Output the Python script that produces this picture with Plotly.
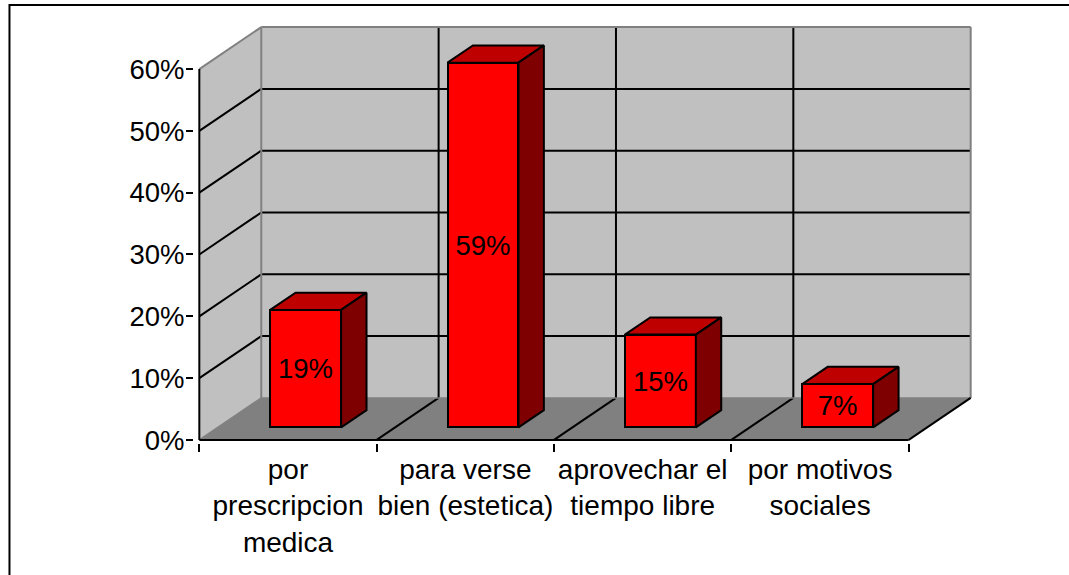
import plotly.graph_objects as go

categories = ["por<br>prescripcion<br>medica", "para verse<br>bien (estetica)",
              "aprovechar el<br>tiempo libre", "por motivos<br>sociales"]
values = [19, 59, 15, 7]
y_ticks = [0, 10, 20, 30, 40, 50, 60]

W, H = 1069, 575
FONT = dict(family="Liberation Sans, Arial, sans-serif", size=27.5, color="black")

# oblique "3D" depth, in axis units
DX = 62 / 177.5
DY = 42 / 6.183
YMAX = 60
NCAT = len(categories)
BAR_W = 0.4
D_FRONT_X, D_FRONT_Y, D_DEPTH = 0.285, 0.3, 0.41

# pixel placement of the front plane
px_x, px_y = 177.5, 6.183
x0_px, y0_px = 199, 440
pad_x, pad_y = 0.03, 0.5
xr = [-pad_x, NCAT + DX + pad_x]
yr = [-pad_y, YMAX + DY + pad_y]
m_l = x0_px + xr[0] * px_x
m_b = H - (y0_px - yr[0] * px_y)
m_r = W - (x0_px + xr[1] * px_x)
m_t = y0_px - yr[1] * px_y
plot_w = W - m_l - m_r
plot_h = H - m_t - m_b


def poly(xs, ys, fill=None, line=None, lw=1.5):
    path = "M" + "L".join(f"{a},{b}" for a, b in zip(xs, ys)) + "Z"
    return dict(type="path", path=path, xref="x", yref="y", layer="below",
                fillcolor=fill if fill else "rgba(0,0,0,0)",
                line=dict(color=line if line else "rgba(0,0,0,0)", width=lw))


def seg(x1, y1, x2, y2, color="black", lw=2, layer="below"):
    return dict(type="line", x0=x1, y0=y1, x1=x2, y1=y2, xref="x", yref="y", layer=layer,
                line=dict(color=color, width=lw))


shapes = []
# walls and floor
shapes.append(poly([0, DX, DX, 0], [0, DY, YMAX + DY, YMAX], fill="#C0C0C0"))
shapes.append(poly([DX, NCAT + DX, NCAT + DX, DX], [DY, DY, YMAX + DY, YMAX + DY], fill="#C0C0C0"))
shapes.append(poly([0, NCAT, NCAT + DX, DX], [0, 0, DY, DY], fill="#808080"))

# gridlines on the side wall and the back wall
for t in y_ticks[1:-1]:
    shapes.append(seg(0, t, DX, t + DY))
    shapes.append(seg(DX, t + DY, NCAT + DX, t + DY))
for i in range(1, NCAT):
    shapes.append(seg(i + DX, DY, i + DX, YMAX + DY))
    shapes.append(seg(i, 0, i + DX, DY))

# grey wall edges
gray = "#808080"
shapes.append(seg(0, YMAX, DX, YMAX + DY, gray, 2))
shapes.append(seg(DX, YMAX + DY, NCAT + DX, YMAX + DY, gray, 2))
shapes.append(seg(DX, DY, DX, YMAX + DY, gray, 2))
shapes.append(seg(NCAT + DX, DY, NCAT + DX, YMAX + DY, gray, 2))
shapes.append(seg(0, 0, DX, DY, gray, 1.5))
shapes.append(seg(DX, DY, NCAT + DX, DY, gray, 1.5))

# axis lines
shapes.append(seg(0, 0, 0, YMAX, "black", 2))
shapes.append(seg(0, 0, NCAT, 0, "black", 2))
shapes.append(seg(NCAT, 0, NCAT + DX, DY, "black", 2))

# chart frame, only the left and top sides show in the picture
frame_l = (9 - m_l) / plot_w
frame_t = (H - m_b - 5) / plot_h
frame_b = (H - m_b - H - 5) / plot_h
shapes.append(dict(type="path", xref="paper", yref="paper",
                   path=f"M{frame_l},{frame_b}L{frame_l},{frame_t}L{(W + 5 - m_l) / plot_w},{frame_t}",
                   line=dict(color="black", width=2), layer="above"))

centers = [i + 0.5 + D_FRONT_X * DX for i in range(NCAT)]
base = D_FRONT_Y * DY
depth_x = D_DEPTH * DX
depth_y = D_DEPTH * DY

fig = go.Figure()
fig.add_trace(go.Bar(
    x=centers, y=values, base=base, width=BAR_W,
    marker=dict(color="#FF0000", line=dict(color="black", width=2)),
    text=[f"{v}%" for v in values], textposition="inside", insidetextanchor="middle",
    textangle=0, constraintext="none", textfont=FONT, hoverinfo="skip",
))

top_x, top_y, side_x, side_y = [], [], [], []
for c, v in zip(centers, values):
    l, r = c - BAR_W / 2, c + BAR_W / 2
    t = base + v
    top_x += [l, r, r + depth_x, l + depth_x, l, None]
    top_y += [t, t, t + depth_y, t + depth_y, t, None]
    side_x += [r, r + depth_x, r + depth_x, r, r, None]
    side_y += [t, t + depth_y, base + depth_y, base, t, None]
for fx, fy, col in [(top_x, top_y, "#BF0000"), (side_x, side_y, "#7F0000")]:
    fig.add_trace(go.Scatter(x=fx, y=fy, mode="lines", fill="toself", fillcolor=col,
                             line=dict(color="black", width=2), hoverinfo="skip"))

fig.update_layout(
    width=W, height=H, autosize=False, showlegend=False,
    paper_bgcolor="white", plot_bgcolor="white",
    margin=dict(l=m_l, r=m_r, t=m_t, b=m_b, pad=0, autoexpand=False),
    font=FONT, shapes=shapes, bargap=0,
    xaxis=dict(range=xr, showgrid=False, zeroline=False, showline=False,
               tickmode="array", tickvals=[i + 0.5 for i in range(NCAT)], ticktext=categories,
               tickangle=0, ticks="", ticklabelstandoff=7, automargin=False, tickfont=dict(size=28),
               minor=dict(tickmode="linear", tick0=0, dtick=1, ticks="outside", ticklen=8,
                          tickwidth=2, tickcolor="black", showgrid=False)),
    yaxis=dict(range=yr, showgrid=False, zeroline=False, showline=False,
               tickmode="array", tickvals=y_ticks, ticktext=[f"{t}%" for t in y_ticks],
               ticks="outside", ticklen=7, tickwidth=2, tickcolor="black", automargin=False,
               ticklabelstandoff=-4),
)

# the page's default body margin would push the chart 8px in
fig.write_html("out.html", config=dict(displayModeBar=False),
               post_script="document.body.style.margin='0';")
